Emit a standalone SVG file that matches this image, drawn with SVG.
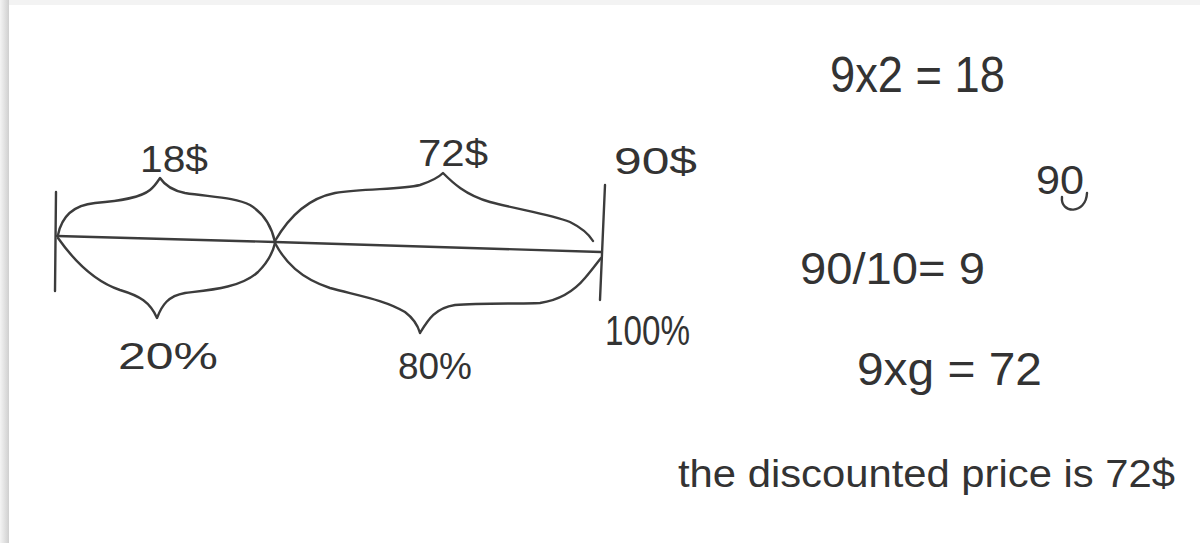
<svg xmlns="http://www.w3.org/2000/svg" width="1200" height="543" viewBox="0 0 1200 543">
<defs>
<linearGradient id="edgeL" x1="0" y1="0" x2="1" y2="0">
<stop offset="0" stop-color="#f4f4f4"/><stop offset="0.6" stop-color="#dedede"/><stop offset="1" stop-color="#cfcfcf"/>
</linearGradient>
<style>
.ink{fill:none;stroke:#3c3c3c;stroke-width:2.4;stroke-linecap:round;stroke-linejoin:round}
.hw{font-family:"Liberation Sans","DejaVu Sans",sans-serif;fill:#333;font-weight:normal}
</style>
</defs>
<rect x="0" y="0" width="1200" height="543" fill="#f3f3f3"/>
<rect x="0" y="0" width="9" height="543" fill="url(#edgeL)"/>
<rect x="9" y="5" width="1191" height="538" fill="#ffffff"/>

<g id="connectors">
<path class="ink" d="M57,236 C130,238 200,240 275,242 C380,245 490,249 601,252"/>
<path class="ink" d="M56,192 L55,291"/>
<path class="ink" d="M605,185 L600,300"/>
</g>

<g id="brace-18">
<path class="ink" d="M58,235 C62,215 75,205 95,203 C120,201 140,198 150,190 C155,186 158,181 160,178 C164,184 170,190 185,193 C210,197 235,197 250,205 C265,214 272,228 275,242"/>
<text class="hw" x="140" y="172" font-size="37" textLength="68" lengthAdjust="spacingAndGlyphs">18$</text>
</g>
<g id="brace-20">
<path class="ink" d="M58,238 C70,255 90,280 120,290 C140,296 150,302 157,318 C162,305 168,296 185,293 C210,290 240,288 258,272 C268,262 273,252 275,243"/>
<text class="hw" x="118" y="369" font-size="36" textLength="100" lengthAdjust="spacingAndGlyphs">20%</text>
</g>
<g id="brace-72">
<path class="ink" d="M275,241 C290,215 310,198 335,193 C365,188 400,190 420,185 C432,181 438,178 443,173 C452,182 465,195 490,202 C520,210 550,214 570,222 C582,228 590,236 593,241"/>
<text class="hw" x="418" y="166" font-size="37" textLength="70" lengthAdjust="spacingAndGlyphs">72$</text>
</g>
<g id="brace-80">
<path class="ink" d="M275,243 C285,262 300,278 330,288 C360,296 385,300 405,312 C413,318 418,326 420,333 C428,320 435,308 455,305 C480,303 520,304 540,303 C560,300 575,290 585,278 C592,270 597,263 601,258"/>
<text class="hw" x="398" y="379" font-size="36" textLength="74" lengthAdjust="spacingAndGlyphs">80%</text>
</g>
<g id="end-90">
<text class="hw" x="614" y="174" font-size="37" textLength="83" lengthAdjust="spacingAndGlyphs">90$</text>
<text class="hw" x="605" y="345" font-size="42" textLength="85" lengthAdjust="spacingAndGlyphs">100%</text>
</g>

<g id="work">
<text class="hw" x="830" y="92" font-size="50" textLength="175" lengthAdjust="spacingAndGlyphs">9x2 = 18</text>
<text class="hw" x="1036" y="194" font-size="40" textLength="48" lengthAdjust="spacingAndGlyphs">90</text>
<path class="ink" d="M1062,197 C1060,214 1086,215 1087,193"/>
<text class="hw" x="800" y="284" font-size="44" textLength="185" lengthAdjust="spacingAndGlyphs">90/10= 9</text>
<text class="hw" x="857" y="385" font-size="46" textLength="185" lengthAdjust="spacingAndGlyphs">9xg = 72</text>
<text class="hw" x="678" y="487" font-size="38" textLength="497" lengthAdjust="spacingAndGlyphs">the discounted price is 72$</text>
</g>
</svg>
